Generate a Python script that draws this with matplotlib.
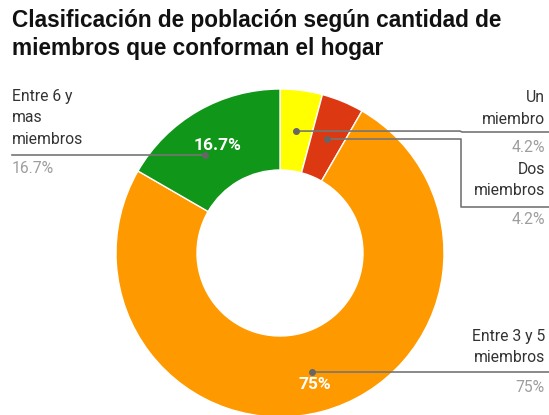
import numpy as np
import matplotlib.pyplot as plt

# datos del gráfico (conteo de hogares)
categorias = ["Un miembro", "Dos miembros", "Entre 3 y 5 miembros", "Entre 6 y mas miembros"]
valores = [1, 1, 18, 4]
colores = ["#ffff00", "#dc3912", "#ff9900", "#109618"]
titulo = "Clasificación de población según cantidad de\nmiembros que conforman el hogar"

W, H = 549, 415
fig = plt.figure(figsize=(W / 100, H / 100), dpi=100)
ax = fig.add_axes([0, 0, 1, 1])

cx, cy = 280, H - 253
R, r_in = 164, 83

wedges, _ = ax.pie(valores, colors=colores, startangle=90, counterclock=False,
                   radius=R, center=(cx, cy),
                   wedgeprops=dict(width=R - r_in, edgecolor="white", linewidth=1))
ax.set_xlim(0, W)
ax.set_ylim(0, H)
ax.set_aspect("equal")
ax.axis("off")

total = sum(valores)
pct = [v / total * 100 for v in valores]
lbl_pct = ["%.1f%%" % p if abs(p - round(p)) > 0.05 else "%d%%" % round(p) for p in pct]

# ángulo medio de cada porción (grados desde arriba, sentido horario)
acum = np.cumsum([0] + valores[:-1])
mid = [(a + v / 2) / total * 360 for a, v in zip(acum, valores)]
shift = [0, 0, 0, -7.5]
r_mid = 123


def punto(ang, rr):
    t = np.radians(ang)
    return cx + rr * np.sin(t), cy + rr * np.cos(t)


dots = [punto(m + s, r_mid) for m, s in zip(mid, shift)]

fnt = "Roboto"
dark = "#333333"
gray = "#9e9e9e"
line_c = "#757575"

fig.text(12 / W, 1 - 9 / H, titulo, ha="left", va="top", fontsize=16.3,
         fontweight="bold", family="Liberation Sans", color="#111111",
         linespacing=1.25)

# porcentajes dentro del anillo (porciones grandes)
for i in (2, 3):
    rr = 124 if i == 3 else 136
    x, y = punto(mid[i], rr)
    ax.text(x, y, lbl_pct[i], ha="center", va="center", color="white",
            fontsize=12.5, fontweight="bold", family=fnt)

def txt(x, y, s, ha, c=dark):
    ax.text(x, H - y, s, ha=ha, va="center", fontsize=11.3, family=fnt, color=c)

# Un miembro
txt(545, 97, "Un", "right")
txt(545, 119, "miembro", "right")
txt(545, 147, lbl_pct[0], "right", gray)
x0, y0 = dots[0]
ax.plot([x0, 460, 462, W], [y0, y0, H - 132, H - 132], color=line_c, lw=1.2)

# Dos miembros
txt(545, 170, "Dos", "right")
txt(545, 191, "miembros", "right")
txt(545, 220, lbl_pct[1], "right", gray)
x1, y1 = dots[1]
ax.plot([x1, 461, 461, W], [y1, y1, H - 207, H - 207], color=line_c, lw=1.2)

# Entre 3 y 5
txt(545, 337, "Entre 3 y 5", "right")
txt(545, 358, "miembros", "right")
txt(545, 388, lbl_pct[2], "right", gray)
x2, y2 = dots[2]
ax.plot([x2, W], [y2, y2], color=line_c, lw=1.2)

# Entre 6 y mas
txt(12, 97, "Entre 6 y", "left")
txt(12, 118, "mas", "left")
txt(12, 140, "miembros", "left")
txt(12, 169, lbl_pct[3], "left", gray)
x3, y3 = dots[3]
ax.plot([12, x3], [y3, y3], color=line_c, lw=1.2)

for x, y in dots:
    ax.plot(x, y, "o", color="#666666", ms=4, zorder=5)

fig.savefig("out.png", dpi=100)
